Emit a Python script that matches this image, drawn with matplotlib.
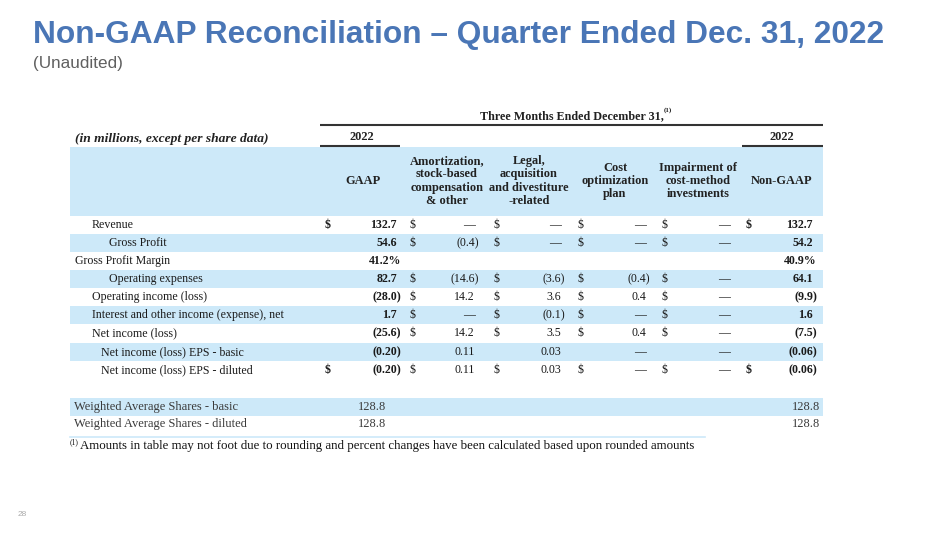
import matplotlib
matplotlib.use("Agg")
import matplotlib.pyplot as plt
from matplotlib.patches import Rectangle

# ---------------- data ----------------
title = "Non-GAAP Reconciliation – Quarter Ended Dec. 31, 2022"
subtitle = "(Unaudited)"
period_header = "Three Months Ended December 31,"
year_labels = ["2022", "2022"]
units_label = "(in millions, except per share data)"
col_headers = ["GAAP",
               "Amortization,\nstock-based\ncompensation\n& other",
               "Legal,\nacquisition\nand divestiture\n-related",
               "Cost\noptimization\nplan",
               "Impairment of\ncost-method\ninvestments",
               "Non-GAAP"]
row_labels = ["Revenue", "Gross Profit", "Gross Profit Margin", "Operating expenses",
              "Operating income (loss)", "Interest and other income (expense), net",
              "Net income (loss)", "Net income (loss) EPS - basic",
              "Net income (loss) EPS - diluted"]
gaap = ["132.7", "54.6", "41.2%", "82.7", "(28.0)", "1.7", "(25.6)", "(0.20)", "(0.20)"]
amort = ["—", "(0.4)", "", "(14.6)", "14.2", "—", "14.2", "0.11", "0.11"]
legal = ["—", "—", "", "(3.6)", "3.6", "(0.1)", "3.5", "0.03", "0.03"]
cost = ["—", "—", "", "(0.4)", "0.4", "—", "0.4", "—", "—"]
impair = ["—", "—", "", "—", "—", "—", "—", "—", "—"]
nongaap = ["132.7", "54.2", "40.9%", "64.1", "(9.9)", "1.6", "(7.5)", "(0.06)", "(0.06)"]
# which rows carry a "$" sign
outer_dollar = [True, False, False, False, False, False, False, False, True]
adj_dollar = [True, True, False, True, True, True, True, False, True]
share_labels = ["Weighted Average Shares - basic", "Weighted Average Shares - diluted"]
share_gaap = ["128.8", "128.8"]
share_nongaap = ["128.8", "128.8"]
footnote = "Amounts in table may not foot due to rounding and percent changes have been calculated based upon rounded amounts"
page_number = "28"

# ---------------- style ----------------
indent_px = [92, 109, 75, 109, 92, 92, 92, 101, 101]
band_rows = [1, 3, 5, 7]
BLUE_BAND = "#cde9f9"
TITLE_BLUE = "#4a76b6"
SERIF = "Liberation Serif"
SANS = "Liberation Sans"
FS = 8.6

fig = plt.figure(figsize=(9.5, 5.35), dpi=100)
ax = fig.add_axes([0, 0, 1, 1])
ax.set_xlim(0, 950)
ax.set_ylim(535, 0)
ax.axis("off")

ax.text(33, 43, title, fontsize=22.8, fontweight="bold", family=SANS,
        color=TITLE_BLUE, va="baseline", ha="left")
ax.text(33, 68, subtitle, fontsize=12.3, family=SANS, color="#606060",
        va="baseline", ha="left")
ax.text(18, 515, page_number, fontsize=6, family=SANS, color="#aaaaaa",
        va="center", ha="left")

# period header and rules
ax.text(572, 116, period_header, fontsize=FS + 0.1, fontweight="bold", family=SERIF,
        ha="center", va="center", color="#222222")
ax.text(664, 110, "(1)", fontsize=5, fontweight="bold", family=SERIF,
        ha="left", va="center", color="#222222")
ax.plot([320, 823], [124.5, 124.5], color="#333333", lw=1.5, solid_capstyle="butt")
ax.text(362, 137, year_labels[0], fontsize=FS + 0.3, fontweight="bold", family=SERIF,
        ha="center", va="center", color="#222222")
ax.text(782, 137, year_labels[1], fontsize=FS + 0.3, fontweight="bold", family=SERIF,
        ha="center", va="center", color="#222222")
ax.plot([320, 400], [146, 146], color="#333333", lw=1.5, solid_capstyle="butt")
ax.plot([742, 823], [146, 146], color="#333333", lw=1.5, solid_capstyle="butt")
ax.text(75, 139, units_label, fontsize=9.7, fontweight="bold", style="italic",
        family=SERIF, ha="left", va="center", color="#222222")

# header band
ax.add_patch(Rectangle((70, 147), 753, 69, facecolor=BLUE_BAND, edgecolor="none"))
col_centers = [363, 447, 529, 615, 698, 782]
for cx, h in zip(col_centers, col_headers):
    ax.text(cx, 181, h, fontsize=FS + 0.3, fontweight="bold", family=SERIF,
            ha="center", va="center", multialignment="center", linespacing=1.12,
            color="#222222")

# body rows
row_y = [225, 243, 261, 279, 297, 315, 333, 352, 370]
for r in band_rows:
    ax.add_patch(Rectangle((70, row_y[r] - 9), 753, 18, facecolor=BLUE_BAND,
                           edgecolor="none"))

value_cols = [gaap, amort, legal, cost, impair, nongaap]
right_edges = [397, 475, 561, 646, 730, 813]
dollar_x = [325, 410, 493, 578, 662, 746]
bold_cols = [True, False, False, False, False, True]

for i, lab in enumerate(row_labels):
    y = row_y[i]
    ax.text(indent_px[i], y, lab, fontsize=FS, family=SERIF, ha="left", va="center",
            color="#1a1a1a")
    for c, col in enumerate(value_cols):
        v = col[i]
        if v:
            xr = right_edges[c] + (4 if v[-1] in ")%" else 0)
            ax.text(xr, y, v, fontsize=FS, family=SERIF, ha="right", va="center",
                    fontweight="bold" if bold_cols[c] else "normal", color="#1a1a1a")
        has_d = outer_dollar[i] if c in (0, 5) else adj_dollar[i]
        if has_d:
            ax.text(dollar_x[c], y, "$", fontsize=FS, family=SERIF, ha="left",
                    va="center", fontweight="bold" if c in (0, 5) else "normal",
                    color="#1a1a1a")

# shares rows
share_y = [407, 424]
SFS = 9.0
ax.add_patch(Rectangle((70, share_y[0] - 9), 753, 18, facecolor=BLUE_BAND,
                       edgecolor="none"))
for i in range(2):
    ax.text(74, share_y[i], share_labels[i], fontsize=SFS, family=SERIF,
            ha="left", va="center", color="#3a3a3a")
    ax.text(358, share_y[i], share_gaap[i], fontsize=SFS, family=SERIF,
            ha="left", va="center", color="#3a3a3a")
    ax.text(820, share_y[i], share_nongaap[i], fontsize=SFS, family=SERIF,
            ha="right", va="center", color="#3a3a3a")
ax.plot([70, 705], [437, 437], color="#cde9f9", lw=1.2)

# footnote
ax.text(70, 442, "(1)", fontsize=5.5, family=SERIF, ha="left", va="center",
        color="#111111")
ax.text(80, 446, footnote, fontsize=9.3, family=SERIF, ha="left", va="center",
        color="#111111")

fig.savefig("out.png", dpi=100, facecolor="white")
